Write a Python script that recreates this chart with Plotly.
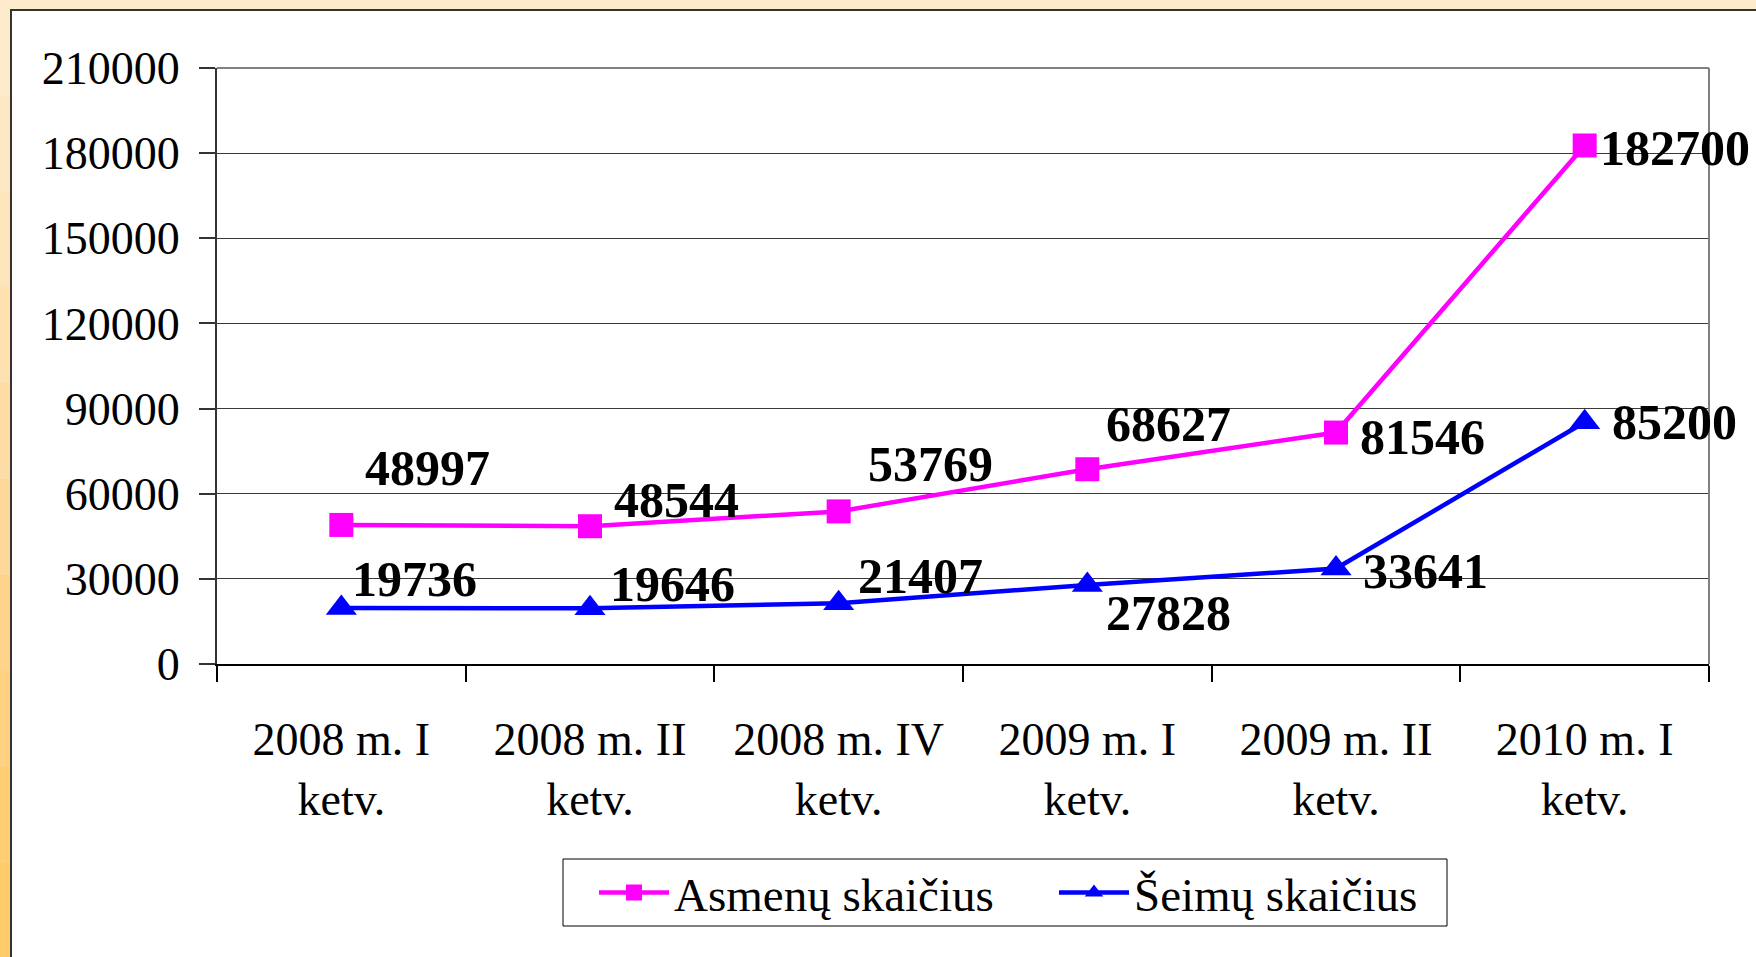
import plotly.graph_objects as go

CATEGORIES = [
    "2008 m. I<br>ketv.",
    "2008 m. II<br>ketv.",
    "2008 m. IV<br>ketv.",
    "2009 m. I<br>ketv.",
    "2009 m. II<br>ketv.",
    "2010 m. I<br>ketv.",
]
ASMENU = [48997, 48544, 53769, 68627, 81546, 182700]
SEIMU = [19736, 19646, 21407, 27828, 33641, 85200]
Y_TICKS = [0, 30000, 60000, 90000, 120000, 150000, 180000, 210000]

# label offsets (px) from the marker: (dx to left edge of label, dy up)
ASMENU_LABEL_SHIFT = [(22, 57), (22, 26), (27, 47), (17, 45), (22, -4), (13, -3)]
SEIMU_LABEL_SHIFT = [(9, 29), (18, 24), (17, 27), (17, -28), (25, -2), (25, 0)]

W, H = 1756, 957
L, R, T, B = 217, 47, 68, 293
PW, PH = W - L - R, H - T - B
FONT = "Liberation Serif, Times New Roman, serif"


def px_x(p):
    return (p - L) / PW


def px_y(p):
    return (H - B - p) / PH


fig = go.Figure()

fig.add_trace(
    go.Scatter(
        x=CATEGORIES,
        y=ASMENU,
        mode="lines+markers",
        name="Asmenų skaičius",
        line={"color": "#ff00ff", "width": 4.5},
        marker={"symbol": "square", "size": 24, "color": "#ff00ff"},
        cliponaxis=False,
    )
)
fig.add_trace(
    go.Scatter(
        x=CATEGORIES,
        y=SEIMU,
        mode="lines+markers",
        name="Šeimų skaičius",
        line={"color": "#0000ff", "width": 4.5},
        marker={"symbol": "triangle-up", "size": 27, "color": "#0000ff"},
        cliponaxis=False,
    )
)

for values, shifts in ((ASMENU, ASMENU_LABEL_SHIFT), (SEIMU, SEIMU_LABEL_SHIFT)):
    for cat, val, (dx, dy) in zip(CATEGORIES, values, shifts):
        fig.add_annotation(
            x=cat,
            y=val,
            text=str(val),
            showarrow=False,
            xanchor="left",
            yanchor="middle",
            xshift=dx,
            yshift=dy,
            font={"family": FONT, "size": 50, "color": "#000", "weight": "bold"},
        )

# page background: beige with orange fade on the left edge, white panel inside
shapes = []
steps = [
    "#fdebcc", "#fde8c4", "#fee4bb", "#fee0b1", "#fedca6",
    "#fed89a", "#fed48d", "#ffd180", "#ffce74", "#ffcc6c",
]
for i, col in enumerate(steps):
    shapes.append(
        dict(
            type="rect", xref="paper", yref="paper", layer="below",
            x0=px_x(0), x1=px_x(11),
            y0=px_y(H * (i + 1) / len(steps)), y1=px_y(H * i / len(steps)),
            fillcolor=col, line={"width": 0},
        )
    )
shapes.append(
    dict(
        type="rect", xref="paper", yref="paper", layer="below",
        x0=px_x(11), x1=px_x(W + 5), y0=px_y(H + 5), y1=px_y(10),
        fillcolor="white", line={"color": "#333", "width": 2},
    )
)
# gray plot-area border on top and right
shapes.append(
    dict(type="line", xref="paper", yref="paper", layer="above",
         x0=0, x1=1, y0=1, y1=1, line={"color": "#808080", "width": 2})
)
shapes.append(
    dict(type="line", xref="paper", yref="paper", layer="above",
         x0=1, x1=1, y0=0, y1=1, line={"color": "#808080", "width": 2})
)
# legend frame
shapes.append(
    dict(type="rect", xref="paper", yref="paper", layer="below",
         x0=px_x(563), x1=px_x(1447), y0=px_y(926), y1=px_y(859),
         fillcolor="white", line={"color": "#000", "width": 1})
)

fig.update_layout(
    width=W,
    height=H,
    margin={"l": L, "r": R, "t": T, "b": B},
    paper_bgcolor="#fdebcc",
    plot_bgcolor="white",
    font={"family": FONT, "size": 46, "color": "#000"},
    shapes=shapes,
    showlegend=True,
    legend={
        "orientation": "h",
        "xanchor": "left",
        "yanchor": "middle",
        "x": px_x(594),
        "y": px_y(893),
        "bgcolor": "rgba(0,0,0,0)",
        "borderwidth": 0,
        "entrywidth": 375,
        "itemwidth": 70,
        "font": {"family": FONT, "size": 47, "color": "#000"},
    },
)
fig.update_xaxes(
    type="category",
    range=[-0.5, 5.5],
    tickson="boundaries",
    ticks="outside",
    ticklen=16,
    tickwidth=1.5,
    tickcolor="#000",
    showline=True,
    linecolor="#000",
    linewidth=1.5,
    showgrid=False,
    ticklabelstandoff=34,
    tickfont={"family": FONT, "size": 46, "color": "#000"},
)
fig.update_yaxes(
    range=[0, 210000],
    tickvals=Y_TICKS,
    ticktext=[str(v) for v in Y_TICKS],
    ticks="outside",
    ticklen=16,
    tickwidth=1.5,
    tickcolor="#333",
    showline=True,
    linecolor="#333",
    linewidth=2,
    showgrid=True,
    gridcolor="#3a3a3a",
    gridwidth=1,
    zeroline=False,
    ticklabelstandoff=10,
    tickfont={"family": FONT, "size": 46, "color": "#000"},
)

fig.write_html(
    "out.html",
    config={"displayModeBar": False},
    post_script="document.body.style.margin = '0';",
)
